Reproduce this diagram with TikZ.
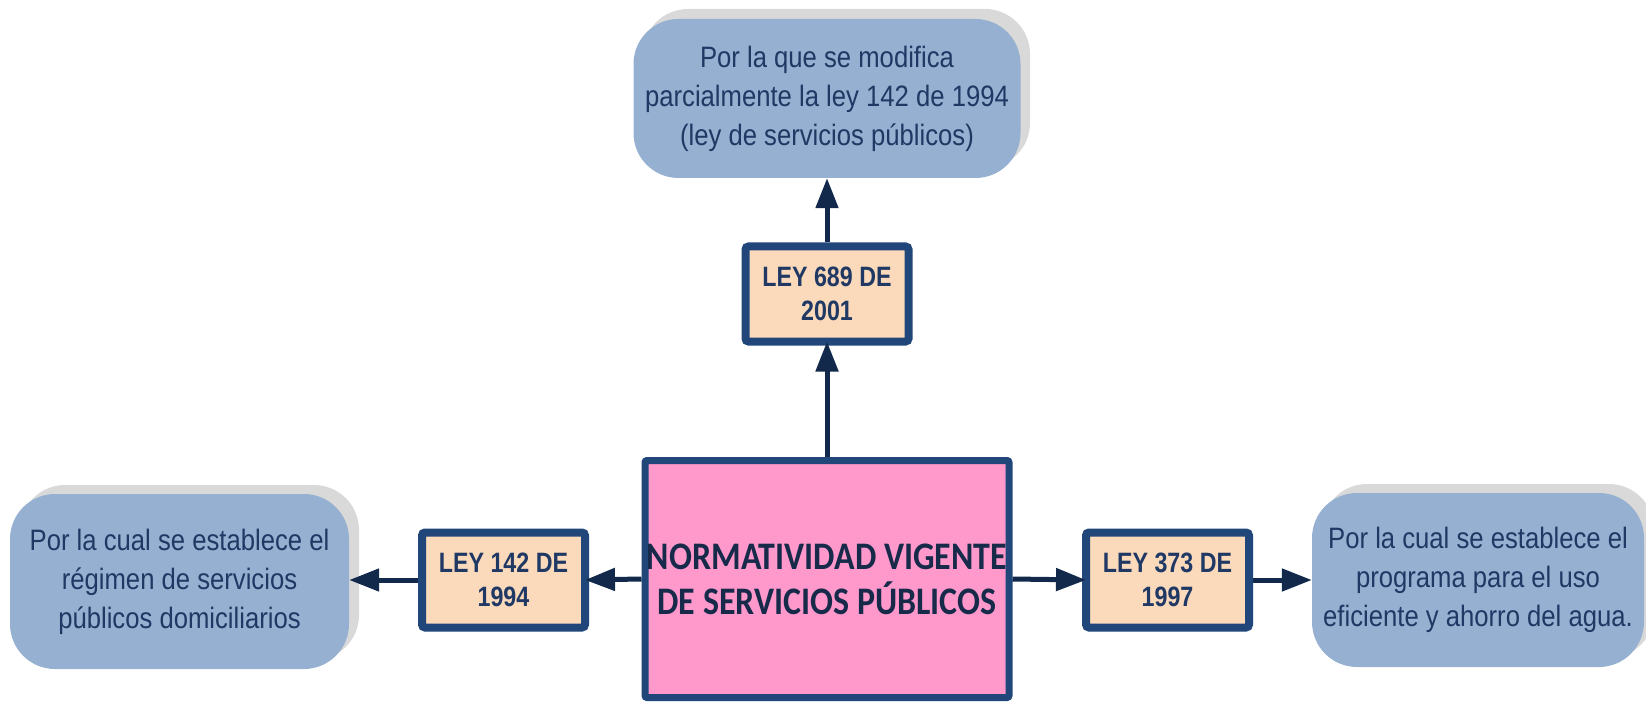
\documentclass[tikz,border=0pt]{standalone}
\usepackage{fontspec}
\setmainfont{Liberation Sans}
\newfontfamily\narrowfont[FakeStretch=0.87]{Liberation Sans}
\newfontfamily\narrowbold[FakeStretch=0.83]{Liberation Sans Bold}
\newfontfamily\calib[FakeStretch=0.87]{Carlito Bold}
\usetikzlibrary{arrows.meta}
\definecolor{bluefill}{HTML}{95B0D0}
\definecolor{shadowc}{HTML}{D9D9D9}
\definecolor{peach}{HTML}{FBD9BB}
\definecolor{pinkc}{HTML}{FF99CC}
\definecolor{borderc}{HTML}{21467A}
\definecolor{textc}{HTML}{1F3864}
\definecolor{maintext}{HTML}{172A4A}
\definecolor{arrc}{HTML}{13294B}
\tikzset{
  bluebox/.style={fill=bluefill, rounded corners=45pt, align=center, text=textc,
    font=\narrowfont\fontsize{29.5}{39}\selectfont, inner sep=0pt},
  shadowbox/.style={fill=shadowc, rounded corners=45pt, inner sep=0pt},
  leybox/.style={draw=borderc, line width=8pt, fill=peach, rounded corners=3pt,
    minimum width=163pt, minimum height=95pt, align=center, text=textc,
    font=\narrowbold\fontsize{28}{34}\selectfont, inner sep=0pt},
  mainbox/.style={draw=borderc, line width=7pt, fill=pinkc, rounded corners=2pt,
    minimum width=364pt, minimum height=237pt, align=center, text=maintext,
    font=\calib\fontsize{39}{45}\selectfont, inner sep=0pt},
  arr/.style={draw=arrc, line width=5pt, -{Triangle[length=30pt,width=22pt]}}
}
\begin{document}
\begin{tikzpicture}[x=1pt,y=-1pt]
\useasboundingbox (0,0) rectangle (1646,703);
% shadows
\node[shadowbox, minimum width=387pt, minimum height=159pt] (ts) at (836.5,88.5) {};
\node[shadowbox, minimum width=339pt, minimum height=175pt] (ls) at (189.5,572.5) {};
\node[shadowbox, minimum width=332pt, minimum height=174pt] (rs) at (1488,571) {};
% blue boxes
\node[bluebox, minimum width=387pt, minimum height=159pt] (top) at (827,98.5)
  {Por la que se modifica\\parcialmente la ley 142 de 1994\\(ley de servicios públicos)};
\node[bluebox, minimum width=339pt, minimum height=175pt] (left) at (179.5,581.5)
  {Por la cual se establece el\\régimen de servicios\\públicos domiciliarios};
\node[bluebox, minimum width=332pt, minimum height=174pt] (right) at (1478,580)
  {Por la cual se establece el\\programa para el uso\\eficiente y ahorro del agua.};
% ley boxes
\node[leybox] (l689) at (827,294) {LEY 689 DE\\2001};
\node[leybox] (l142) at (503.5,580) {LEY 142 DE\\1994};
\node[leybox] (l373) at (1167.5,580) {LEY 373 DE\\1997};
% main
\node[mainbox] (main) at (827,579) {NORMATIVIDAD VIGENTE\\DE SERVICIOS PÚBLICOS};
% arrows
\draw[arr] (main.north) -- ([yshift=4pt]l689.south);
\draw[arr] (l689.north) -- (top.south);
\draw[arr] (main.west) -- ([xshift=-4pt]l142.east);
\draw[arr] (l142.west) -- (l142.west -| left.east);
\draw[arr] (main.east) -- ([xshift=4pt]l373.west);
\draw[arr] (l373.east) -- (l373.east -| right.west);
\end{tikzpicture}
\end{document}
